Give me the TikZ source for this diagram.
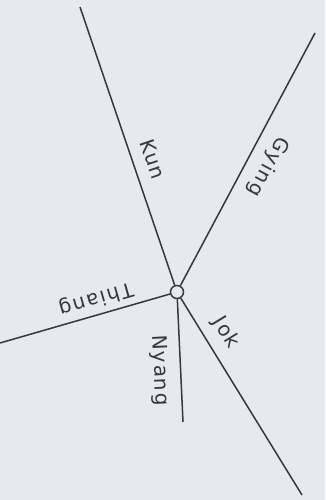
\documentclass[tikz,border=0pt]{standalone}
\usepackage{fontspec}
\setmainfont{DejaVu Sans}
\usepackage{tikz}
\usetikzlibrary{positioning}

\definecolor{paper}{RGB}{231,233,241}
\definecolor{ink}{RGB}{55,55,62}

\begin{document}
\begin{tikzpicture}[
    x=1pt, y=1pt,
    hub/.style={circle, draw=ink, line width=1.5pt, fill=paper, minimum size=13pt, inner sep=0pt},
    road/.style={draw=ink, line width=1.5pt},
    lbl/.style={sloped, allow upside down, inner sep=1pt, text=ink, font=\fontsize{20}{22}\selectfont\addfontfeature{LetterSpace=8}}
]
    \fill[paper] (0,0) rectangle (325,500);
    \useasboundingbox (0,0) rectangle (325,500);

    \node[hub] (hub) at (177,208) {};
    \coordinate (kun) at (80,493);
    \coordinate (gying) at (315,467);
    \coordinate (thiang) at (0,157);
    \coordinate (nyang) at (183,78);
    \coordinate (jok) at (302,5);

    \draw[road] (kun) -- (hub) node[lbl, pos=0.57, above=11pt] {Kun};
    \draw[road] (gying) -- (hub) node[lbl, pos=0.49, above=10pt] {Gying};
    \draw[road] (hub) -- (thiang) node[lbl, pos=0.41, below=5pt] {Thiang};
    \draw[road] (hub) -- (nyang) node[lbl, pos=0.57, below=10pt] {Nyang};
    \draw[road] (hub) -- (jok) node[lbl, pos=0.23, above=9pt] {Jok};
\end{tikzpicture}
\end{document}
